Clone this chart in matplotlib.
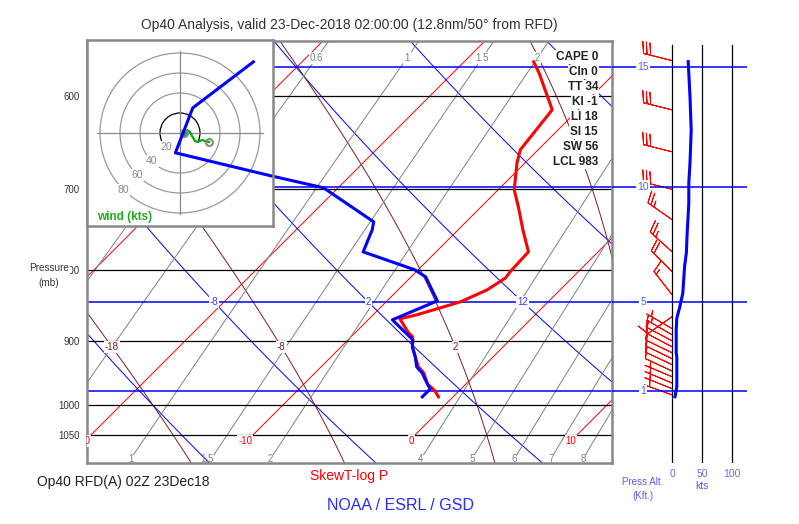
import numpy as np
import matplotlib
matplotlib.use("Agg")
import matplotlib.pyplot as plt
from matplotlib.patches import Arc, Circle

plt.rcParams['font.family'] = ['Liberation Sans', 'DejaVu Sans']

# sounding (mb, deg C)
temp_p = [567.2, 577.5, 613.9, 655.8, 670.1, 700.7, 720.6, 748.5, 776.2, 802.2, 810.3, 826.5,
          842.9, 861.2, 867.0, 887.3, 893.1, 908.0, 923.2, 938.5, 947.8, 966.8, 970.0, 976.4, 986.2]
temp_t = [-15.7, -14.7, -11.6, -11.1, -10.5, -9.0, -7.7, -6.0, -4.3, -4.2, -4.1, -4.5,
          -5.4, -7.3, -8.1, -6.7, -6.2, -5.6, -4.8, -4.0, -3.3, -2.3, -2.0, -1.5, -0.9]
dewp_p = [567.2, 612.0, 659.1, 684.6, 698.3, 738.7, 748.5, 776.2, 799.6, 808.9, 841.6, 868.4,
          897.6, 908.0, 923.2, 938.5, 947.8, 966.8, 973.3, 986.2]
dewp_t = [-33.0, -33.9, -32.2, -24.9, -20.9, -15.7, -15.3, -14.5, -10.2, -9.1, -6.9, -8.5,
          -6.0, -5.6, -4.8, -4.1, -3.4, -2.3, -1.9, -1.9]

# wind speed profile (mb, kts)
spd_p = [567, 578, 601, 635, 670, 693, 716, 757, 777, 795, 831, 850, 866, 883, 917, 923, 970, 975, 986]
spd_k = [27, 28, 30, 32, 30, 28, 28, 25, 24, 21, 18, 13, 8, 7, 7, 8, 8, 7, 5]

# wind barbs (mb, direction deg, kts)
barb_p = [566, 614, 658, 700, 736, 776, 802, 833, 864,
          881, 890, 899, 908, 917, 926, 935, 945, 954, 964, 973, 983]
barb_dir = [284, 284, 284, 284, 305, 312, 315, 322, 235,
            300, 300, 298, 298, 296, 296, 295, 295, 293, 293, 292, 290]
barb_spd = [30, 30, 30, 30, 25, 25, 20, 15, 10,
            7, 7, 8, 8, 8, 8, 8, 8, 7, 7, 7, 5]

# hodograph (kts)
hodo_u = [4, 5, 7, 10, 12, 15, 18, 22, 25, 29]
hodo_v = [0, -3, 3, 1, -3, -8, -9, -7, -8, -9]

stats = ["CAPE 0", "CIn 0", "TT 34", "KI -1", "LI 18", "SI 15", "SW 56", "LCL 983"]

isobars = [600, 700, 800, 900, 1000, 1050]
isotherms = list(range(-60, 40, 10))
dry_thetas = list(range(-58, 63, 10))
moist_thetas = [-28, -18, -8, 2, 12, 22]
mix_ratios = [0.4, 0.6, 1, 1.5, 2, 4, 5, 6, 7, 8]
alt_kft = [1, 5, 10, 15]

W, H = 799, 524
P_REF, P_BOT, P_TOP = 1050.0, 1100.0, 548.0
X_LEFT, X_RIGHT = -20.25, 12.15
SKEW = (422 / np.log(P_BOT / P_TOP)) / (525 / (X_RIGHT - X_LEFT))
INSET_EDGE = X_LEFT + (273 - 87) / 525 * (X_RIGHT - X_LEFT)


def skew_x(t, p):
    return np.asarray(t, float) + SKEW * np.log(P_REF / np.asarray(p, float))


def inside(x, lo=X_LEFT, hi=X_RIGHT):
    return lo < x < hi


def mix_t(w, p):
    a = np.log(w * p / (622.0 + w) / 6.112)
    return 243.5 * a / (17.67 - a)


def alt_p(kft):
    return 1013.25 * (1 - 6.8756e-6 * kft * 1000) ** 5.2559


def moist(thw, pres):
    Rd, cp, Lv, eps = 287.04, 1005.7, 2.501e6, 0.622

    def slope(t, p):
        es = 6.112 * np.exp(17.67 * (t - 273.15) / (t - 29.65))
        rs = eps * es / (p - es)
        return (Rd * t + Lv * rs) / (cp + Lv * Lv * rs * eps / (Rd * t * t)) / p

    out = []
    for target in pres:
        t, p = thw + 273.15, 1000.0
        n = 40
        dp = (target - p) / n
        for i in range(n):
            k1 = slope(t, p)
            k2 = slope(t + 0.5 * dp * k1, p + 0.5 * dp)
            k3 = slope(t + 0.5 * dp * k2, p + 0.5 * dp)
            k4 = slope(t + dp * k3, p + dp)
            t += dp * (k1 + 2 * k2 + 2 * k3 + k4) / 6
            p += dp
        out.append(t - 273.15)
    return np.array(out)


def box(x0, y0, x1, y1):
    return [x0 / W, 1 - y1 / H, (x1 - x0) / W, (y1 - y0) / H]


wbox = dict(boxstyle='square,pad=0.1', fc='white', ec='none')

fig = plt.figure(figsize=(W / 100, H / 100), dpi=100)
ax = fig.add_axes(box(87, 41, 612, 463))
axw = fig.add_axes(box(612, 41, 747, 463))
axh = fig.add_axes(box(87, 40, 273, 226))

# ---- skew-T ----
ax.set_yscale('log')
ax.set_ylim(P_BOT, P_TOP)
ax.set_xlim(X_LEFT, X_RIGHT)
ax.set_xticks([])
ax.set_yticks(isobars)
ax.set_yticklabels([str(p) for p in isobars])
ax.yaxis.set_minor_locator(plt.NullLocator())
ax.tick_params(axis='y', length=0, pad=5, labelsize=7, labelcolor='#333333')
for s in ax.spines.values():
    s.set_color('#888888')
    s.set_linewidth(1.8)

pp = np.geomspace(P_BOT, 540, 80)

for p in isobars:
    ax.axhline(p, color='black', lw=0.9, zorder=2)

for t in isotherms:
    pi = np.geomspace(P_REF, 540, 30)
    ax.plot(skew_x(t, pi), pi, color='red', lw=0.7, zorder=1)
    xl = skew_x(t, P_REF) - 0.05
    if inside(xl, X_LEFT - 1.0):
        ax.text(xl, 1061, str(t), color='red', fontsize=7, ha='right', va='center',
                bbox=wbox, clip_on=True, zorder=3)

p5 = alt_p(5)
for th in dry_thetas:
    td = (th + 273.15) * (pp / 1000.0) ** 0.2857 - 273.15
    ax.plot(skew_x(td, pp), pp, color='blue', lw=0.7, zorder=1)
    t5 = (th + 273.15) * (p5 / 1000.0) ** 0.2857 - 273.15
    xl = float(skew_x(t5, p5))
    if inside(xl, X_LEFT + 0.5, X_RIGHT - 0.5):
        ax.text(xl, p5, str(th), color='#3a3aff', fontsize=7, ha='center', va='center',
                bbox=wbox, zorder=3)

for th in moist_thetas:
    tm = moist(th, pp)
    ax.plot(skew_x(tm, pp), pp, color='#7a1f1f', lw=0.7, zorder=1)
    tl = moist(th, [908.0])[0]
    xl = float(skew_x(tl, 908.0))
    if inside(xl, X_LEFT + 0.5, X_RIGHT - 0.5):
        ax.text(xl, 908.0, str(th), color='#7a1f1f', fontsize=7, ha='center', va='center',
                bbox=wbox, zorder=3)

for w in mix_ratios:
    pm = np.geomspace(1085, 540, 30)
    ax.plot(skew_x(mix_t(w, pm), pm), pm, color='#808080', lw=0.7, zorder=1)
    lab = '%g' % w
    xb = float(skew_x(mix_t(w, 1085), 1085))
    if inside(xb, X_LEFT + 0.8, X_RIGHT):
        ax.text(xb, 1092, lab, color='#808080', fontsize=7, ha='right', va='center', zorder=3)
    xt = float(skew_x(mix_t(w, 563.4), 563.4))
    if inside(xt, INSET_EDGE + 0.5, X_RIGHT - 0.5):
        ax.text(xt, 563.4, lab, color='#808080', fontsize=7, ha='center', va='center',
                bbox=wbox, zorder=3)

for k in alt_kft:
    ax.axhline(alt_p(k), color='blue', lw=1.1, zorder=2)

ax.plot(skew_x(temp_t, temp_p), temp_p, color='red', lw=2.2, zorder=5)
ax.plot(skew_x(dewp_t, dewp_p), dewp_p, color='blue', lw=2.2, zorder=5)

# ---- wind panel ----
axw.set_yscale('log')
axw.set_ylim(P_BOT, P_TOP)
axw.set_xlim(-100, 125)
axw.set_xticks([0, 50, 100])
axw.set_yticks([])
axw.yaxis.set_minor_locator(plt.NullLocator())
axw.tick_params(axis='x', length=0, pad=4, labelsize=7.5, labelcolor='#6b6bff')
axw.patch.set_alpha(0)
for s in axw.spines.values():
    s.set_visible(False)
for k in (0, 50, 100):
    axw.axvline(k, color='black', lw=0.9, ymax=0.99)
for k in alt_kft:
    axw.axhline(alt_p(k), color='blue', lw=1.1)
    axw.text(-48, alt_p(k), str(k), color='#5a5aff', fontsize=7.5, ha='center', va='center', bbox=wbox)
axw.plot(spd_k, spd_p, color='blue', lw=2.2)
bd = np.radians(barb_dir)
bu = -np.array(barb_spd) * np.sin(bd)
bv = -np.array(barb_spd) * np.cos(bd)
axw.barbs(np.zeros(len(barb_p)), barb_p, bu, bv, length=6.5, color='red', linewidth=0.7, pivot='tip')

# ---- hodograph inset ----
axh.set_autoscale_on(False)
axh.set_xlim(-93, 93)
axh.set_ylim(-93, 93)
axh.set_xticks([])
axh.set_yticks([])
for s in axh.spines.values():
    s.set_color('#888888')
    s.set_linewidth(1.8)
axh.plot([-83, 83], [0, 0], color='#888888', lw=0.9)
axh.plot([0, 0], [-81, 82], color='#888888', lw=0.9)
for r in (40, 60, 80):
    axh.add_patch(Circle((0, 0), r, fill=False, ec='#999999', lw=0.9))
axh.add_patch(Arc((0, 0), 40, 40, theta1=-24, theta2=205, color='black', lw=0.9))
for r in (20, 40, 60, 80):
    a = np.radians(225)
    axh.text(r * np.cos(a), r * np.sin(a), str(r), color='#888888', fontsize=7.5,
             ha='center', va='center', bbox=wbox)
axh.plot(hodo_u, hodo_v, color='#00aa00', lw=1.6)
axh.plot([hodo_u[0], hodo_u[-1]], [hodo_v[0], hodo_v[-1]], 'o', mfc='none', mec='#888888', ms=5, mew=1.5)
axh.text(-83, -84, 'wind (kts)', color='#22aa22', fontweight='bold', fontsize=8.5, va='center')
axh.plot(skew_x(dewp_t, dewp_p), dewp_p, transform=ax.transData, color='blue', lw=2.2)

# ---- text ----
for i, s in enumerate(stats):
    fig.text(598 / W, 1 - (57 + 15 * i) / H, s, ha='right', va='center', fontsize=8.5,
             fontweight='bold', color='#222222', bbox=wbox)

fig.text(349.5 / W, 1 - 25 / H, "Op40 Analysis, valid 23-Dec-2018 02:00:00 (12.8nm/50\u00b0 from RFD)",
         ha='center', va='center', fontsize=10, color='#333333')
fig.text(69 / W, 1 - 268 / H, "Pressure", ha='right', va='center', fontsize=7.2, color='#333333', bbox=wbox)
fig.text(49 / W, 1 - 283 / H, "(mb)", ha='center', va='center', fontsize=7.2, color='#333333')
fig.text(37 / W, 1 - 482 / H, "Op40 RFD(A) 02Z 23Dec18", ha='left', va='center', fontsize=10, color='#222222')
fig.text(349.5 / W, 1 - 476 / H, "SkewT-log P", ha='center', va='center', fontsize=10, color='red')
fig.text(401 / W, 1 - 506 / H, "NOAA / ESRL / GSD", ha='center', va='center', fontsize=11.5, color='#2a2aff')
fig.text(643 / W, 1 - 482 / H, "Press Alt.", ha='center', va='center', fontsize=7, color='#5a5aff')
fig.text(643 / W, 1 - 496 / H, "(Kft.)", ha='center', va='center', fontsize=7, color='#5a5aff')
fig.text(702 / W, 1 - 486 / H, "kts", ha='center', va='center', fontsize=7.5, color='#5a5aff')

fig.savefig("out.png", dpi=100)
